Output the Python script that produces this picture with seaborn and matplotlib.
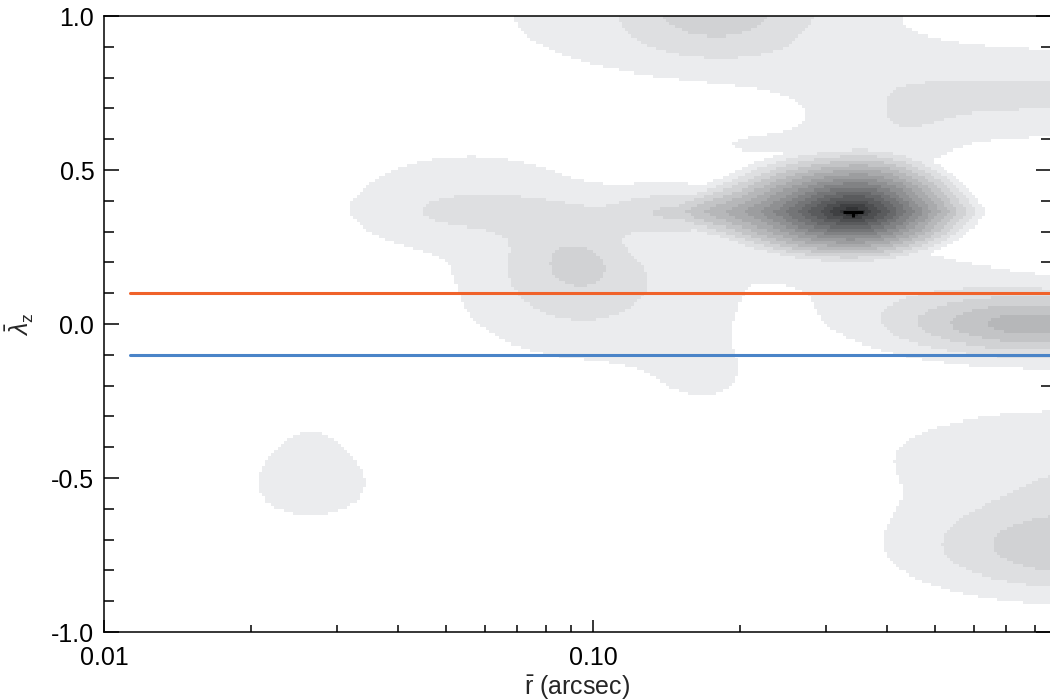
import numpy as np
import matplotlib
matplotlib.use("Agg")
import matplotlib.pyplot as plt
from matplotlib.colors import ListedColormap
from matplotlib.ticker import FixedLocator, NullFormatter, MultipleLocator
import seaborn as sns

# ---- density components in log10(r) / lambda_z space ----
# centre radius [arcsec], centre lambda_z, width [dex], width in lambda_z,
# height [contour steps], profile power (2 = Gaussian, 4 = flat-topped)
comp_r     = [0.150, 0.0616, 0.0560, 0.100, 0.1655, 0.0940, 0.0954, 0.424, 0.178, 0.170,
              0.850, 0.800, 0.424, 0.820, 0.991, 0.945, 0.0265, 0.0265, 0.0856, 0.250, 0.2195]
comp_lam   = [0.364, 0.365, 0.385, 0.060, -0.160, 0.159, 0.182, 0.143, 1.030, 1.000,
              0.745, 0.750, 0.560, -0.003, -0.727, -0.425, -0.520, -0.400, 0.289, 0.220, 0.581]
comp_dex   = [0.095, 0.143, 0.225, 0.245, 0.095, 0.092, 0.040, 0.266, 0.130, 0.450,
              0.250, 0.450, 0.102, 0.200, 0.240, 0.320, 0.120, 0.050, 0.080, 0.150, 0.150]
comp_dlam  = [0.055, 0.046, 0.165, 0.175, 0.090, 0.114, 0.045, 0.130, 0.110, 0.200,
              0.070, 0.150, 0.120, 0.073, 0.114, 0.130, 0.110, 0.070, 0.070, 0.060, 0.060]
comp_peak  = [2.8, 0.9, 1.6, 1.45, 1.3, 1.0, 0.55, 1.1, 2.5, 1.3,
              0.9, 1.3, 1.1, 5.2, 3.8, 1.8, 1.5, 0.7, 0.8, 0.6, 1.0]
comp_power = [2, 2, 2, 4, 2, 2, 2, 2, 2, 4,
              2, 4, 2, 2, 2, 2, 2, 2, 2, 2, 2]

# main peak: centre, height and reach (left/right in dex, up/down in lambda_z)
peak_r, peak_lam, peak_height = 0.340, 0.364, 15.8
peak_reach_left, peak_reach_right = 0.368, 0.290
peak_reach_up, peak_reach_down = 0.214, 0.172
peak_lens = 0.35

# best-fit point with its uncertainties
best_r, best_lam = 0.340, 0.364
best_r_err = [[0.0155], [0.0165]]
best_lam_err = [[0.018], [0.0]]

# reference lines in lambda_z
line_upper, line_lower = 0.1, -0.1
line_r_start = 0.0113

n_levels = 15
x_lo, x_hi = 0.01, 10 ** (-2 + 947 / 489)
y_lo, y_hi = -1.0, 1.0

# ---- evaluate the density on a grid ----
nx, ny = 300, 200
u_edges = np.linspace(np.log10(x_lo), np.log10(x_hi), nx + 1)
v_edges = np.linspace(y_lo, y_hi, ny + 1)
uc = 0.5 * (u_edges[:-1] + u_edges[1:])
vc = 0.5 * (v_edges[:-1] + v_edges[1:])
U, V = np.meshgrid(uc, vc, indexing="ij")

field = np.zeros_like(U)
for r0, l0, dr, dl, a, p in zip(comp_r, comp_lam, comp_dex, comp_dlam, comp_peak, comp_power):
    d2 = ((U - np.log10(r0)) / dr) ** 2 + ((V - l0) / dl) ** 2
    field += a * np.exp(-0.5 * d2 ** (p / 2))

du = U - np.log10(peak_r)
dv = V - peak_lam
xs = du / np.where(du < 0, peak_reach_left, peak_reach_right)
ys = dv / (np.where(dv > 0, peak_reach_up, peak_reach_down) * (1 + peak_lens))
rho = np.hypot(xs, ys) + peak_lens * np.abs(ys)
field += peak_height * np.clip(1 - rho, 0, None) ** 1.1

levels = np.clip(np.floor(field), 0, n_levels)

# grey ramp, light to dark
g = 236 - 13.2 * np.arange(n_levels)
grey = [((gi - 1) / 255, gi / 255, min(gi + 2, 255) / 255) for gi in g]
cmap = ListedColormap(grey)

# ---- plot ----
sns.set_theme(style="ticks")
plt.rcParams["font.family"] = ["Liberation Sans", "DejaVu Sans"]
plt.rcParams["mathtext.fontset"] = "custom"
plt.rcParams["mathtext.rm"] = "Liberation Sans"
plt.rcParams["mathtext.it"] = "Liberation Sans:italic"
plt.rcParams["axes.unicode_minus"] = False

fig = plt.figure(figsize=(10.5, 7), dpi=100)
ax = fig.add_axes([104 / 1050, 68 / 700, 947 / 1050, 616 / 700])

sns.histplot(
    x=10 ** U.ravel(), y=V.ravel(), weights=levels.ravel(),
    bins=(nx, ny), binrange=((u_edges[0], u_edges[-1]), (y_lo, y_hi)),
    log_scale=(True, False), cmap=cmap, vmin=0.5, vmax=n_levels + 0.5,
    ax=ax, cbar=False,
)

sns.lineplot(x=[line_r_start, x_hi], y=[line_upper, line_upper], color="#f0622a",
             lw=2.2, ax=ax, legend=False)
sns.lineplot(x=[line_r_start, x_hi], y=[line_lower, line_lower], color="#4a84c8",
             lw=2.2, ax=ax, legend=False)

ax.errorbar(best_r, best_lam, xerr=best_r_err, yerr=best_lam_err, fmt="none",
            ecolor="black", elinewidth=2.2, capsize=0)

ax.set_xscale("log")
ax.set_xlim(x_lo, x_hi)
ax.set_ylim(y_lo, y_hi)

ax.xaxis.set_major_locator(FixedLocator([0.01, 0.1]))
ax.set_xticklabels(["0.01", "0.10"])
ax.xaxis.set_minor_locator(FixedLocator([0.02, 0.03, 0.04, 0.05, 0.06, 0.07, 0.08, 0.09,
                                         0.2, 0.3, 0.4, 0.5, 0.6, 0.7, 0.8]))
ax.xaxis.set_minor_formatter(NullFormatter())
ax.set_yticks([-1.0, -0.5, 0.0, 0.5, 1.0])
ax.set_yticklabels(["-1.0", "-0.5", "0.0", "0.5", "1.0"])
ax.yaxis.set_minor_locator(MultipleLocator(0.1))

ax.tick_params(which="both", direction="in", top=False, right=True, width=1.1,
               colors="black", labelsize=18)
ax.tick_params(axis="x", which="major", length=9, pad=10)
ax.tick_params(axis="x", which="minor", length=5)
ax.tick_params(axis="y", which="major", length=11, pad=7)
ax.tick_params(axis="y", which="minor", length=7)

for s in ax.spines.values():
    s.set_visible(True)
    s.set_linewidth(1.1)
    s.set_color("black")

ax.set_xlabel(r"$\bar{\mathrm{r}}$ (arcsec)", fontsize=18, labelpad=2)
ax.set_ylabel(r"$\bar{\lambda}_{\mathrm{z}}$", fontsize=18)
ax.yaxis.set_label_coords(-0.072, 0.5)
ax.grid(False)

fig.savefig("out.png", dpi=100, facecolor="white")
